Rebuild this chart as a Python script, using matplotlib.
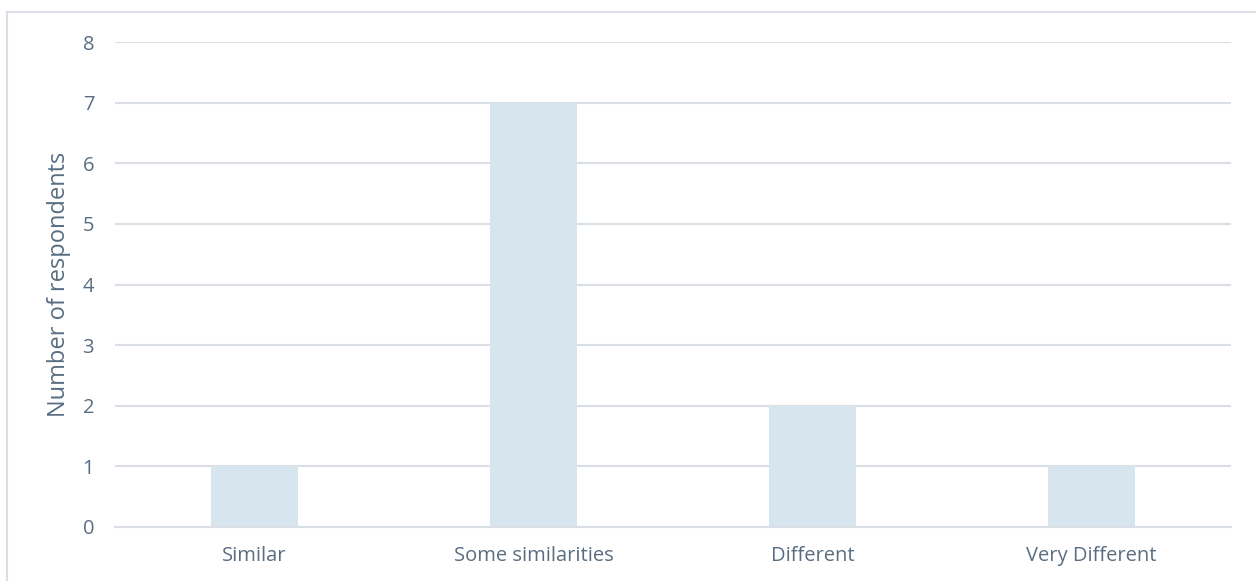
import matplotlib
matplotlib.use("Agg")
import matplotlib.pyplot as plt
from matplotlib.lines import Line2D

categories = ["Similar", "Some similarities", "Different", "Very Different"]
values = [1, 7, 2, 1]
yticks = [0, 1, 2, 3, 4, 5, 6, 7, 8]

plt.rcParams['font.family'] = ['Open Sans', 'DejaVu Sans']
text_color = "#596E82"
grid_color = "#D9DFE5"
bar_color = "#D7E5EF"

W, H = 1256, 581
fig = plt.figure(figsize=(W / 100, H / 100), dpi=100)
ax = fig.add_axes([115 / W, 1 - 527 / H, (1231 - 115) / W, (527 - 42) / H])

x = range(len(categories))
ax.bar(x, values, width=0.31, color=bar_color, zorder=2)
ax.set_xlim(-0.5, len(categories) - 0.5)
ax.set_ylim(0, 8)
ax.set_yticks(yticks)
ax.set_xticks(list(x))
ax.set_xticklabels(categories)
ax.yaxis.grid(True, color=grid_color, linewidth=1.5, zorder=1)
ax.set_axisbelow(True)
for s in ["top", "right", "left"]:
    ax.spines[s].set_visible(False)
ax.spines["bottom"].set_color(grid_color)
ax.spines["bottom"].set_linewidth(1.5)
ax.tick_params(axis="both", length=0, colors=text_color, labelsize=14.5)
ax.tick_params(axis="y", pad=15)
ax.tick_params(axis="x", pad=14)
ax.set_ylabel("Number of respondents", color=text_color, fontsize=17, labelpad=8)

# outer frame (top and left edges visible)
fig.add_artist(Line2D([7 / W, 7 / W], [0, 1 - 12 / H], transform=fig.transFigure,
                      color=grid_color, linewidth=1.5))
fig.add_artist(Line2D([7 / W, 1], [1 - 12 / H, 1 - 12 / H], transform=fig.transFigure,
                      color=grid_color, linewidth=1.5))

fig.savefig("out.png", dpi=100, facecolor="white")
